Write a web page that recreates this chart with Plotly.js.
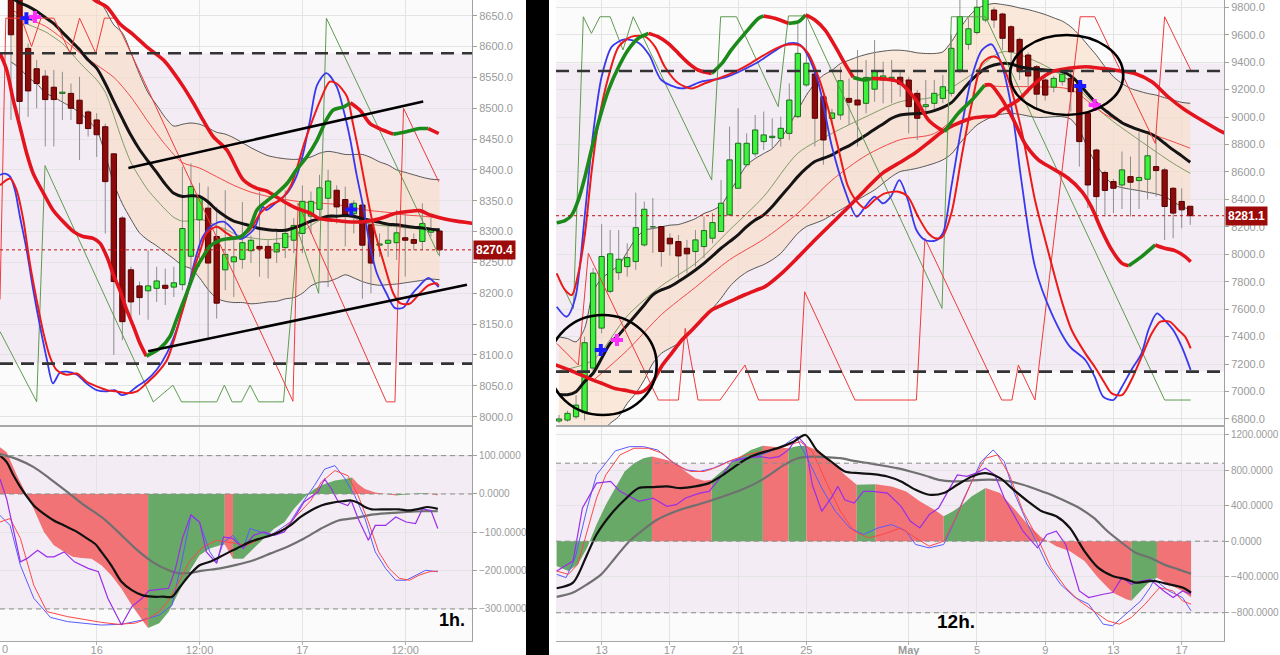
<!DOCTYPE html>
<html><head><meta charset="utf-8">
<script src="https://cdn.plot.ly/plotly-3.0.1.min.js"></script>
<style>html,body{margin:0;padding:0;background:#fff;}#chart{width:1280px;height:655px;}</style>
</head><body><div id="chart"></div>
<script>
// ================= LEFT PANEL (1h) =================
const L_open  = [8690,8700,8597,8564,8552,8534,8524,8524,8513,8494,8481,8470,8426,8322,8238,8212,8204,8208,8213,8210,8214,8260,8319,8338,8292,8238,8251,8255,8269,8276,8276,8267,8274,8286,8297,8325,8336,8354,8367,8352,8329,8343,8311,8278,8281,8282,8290,8287,8284,8299,8301];
const L_high  = [8705,8712,8605,8578,8562,8562,8559,8540,8551,8497,8492,8475,8427,8325,8243,8219,8270,8243,8240,8243,8405,8411,8379,8373,8340,8367,8292,8348,8294,8365,8286,8302,8367,8322,8375,8365,8392,8400,8375,8373,8351,8348,8316,8297,8308,8335,8335,8297,8346,8322,8305];
const L_low   = [8481,8473,8486,8500,8438,8438,8481,8481,8416,8454,8421,8297,8100,8124,8151,8165,8157,8186,8181,8194,8205,8227,8243,8124,8159,8205,8194,8240,8249,8227,8224,8249,8257,8265,8265,8297,8319,8210,8313,8276,8297,8191,8200,8259,8259,8254,8227,8270,8270,8292,8260];
const L_close = [8619,8511,8528,8540,8514,8514,8526,8500,8475,8467,8457,8381,8219,8154,8186,8193,8212,8220,8208,8217,8305,8373,8356,8249,8184,8263,8259,8282,8286,8272,8257,8281,8297,8310,8349,8349,8371,8382,8340,8327,8346,8278,8249,8280,8286,8298,8286,8281,8313,8305,8270.4];
const L_bandUp = [8790,8780,8770,8760,8750,8740,8725,8712,8700,8690,8680,8660,8635,8622,8590,8555,8525,8505,8485,8471,8474,8476,8474,8468,8461,8458,8452,8444,8436,8429,8423,8420,8418,8417,8418,8421,8427,8430,8428,8425,8425,8425,8420,8413,8408,8400,8396,8392,8388,8385,8384];
const L_bandLo = [8575,8565,8550,8540,8525,8518,8510,8502,8493,8480,8465,8425,8378,8345,8320,8298,8286,8277,8266,8256,8245,8240,8225,8206,8192,8187,8185,8185,8183,8184,8186,8187,8191,8193,8200,8212,8218,8219,8224,8230,8225,8219,8215,8213,8214,8215,8217,8219,8221,8223,8222];
const L_maBlack = [8680,8671,8665,8657,8647,8637,8623,8609,8595,8578,8565,8540,8511,8483,8456,8433,8414,8396,8377,8362,8357,8358,8357,8348,8335,8325,8317,8313,8309,8305,8303,8302,8302,8306,8311,8317,8321,8325,8325,8326,8325,8321,8318,8315,8312,8311,8309,8307,8306,8304,8303];
const L_maOlive = [8655,8645,8636,8630,8624,8615,8605,8590,8574,8560,8546,8526,8488,8447,8412,8388,8367,8351,8336,8323,8317,8318,8320,8316,8309,8304,8297,8292,8290,8288,8287,8288,8290,8294,8300,8310,8318,8322,8324,8325,8322,8316,8312,8310,8309,8308,8306,8305,8303,8302,8300];
const L_maRedX = [0,2,4,6,8,10,12,14,16,18,20,22,24,26,28,30,32,34,36,38,40,42,44,46,48,50];
const L_maRedY = [8660,8645,8633,8613,8590,8570,8550,8518,8478,8441,8412,8403,8389,8375,8364,8357,8352,8348,8346,8344,8338,8334,8331,8327,8325,8322];
const L_thick1X = [8,9.8,11.2,12.7,14.3,15.8,17.8,18.9,20.1,21.3,22.4,23.6,25.2,27.1,28.7,29.8,30.9,32.2,33.3,34.9,36.0,37.2,39.2,41.1,43.0,45.0,46.6,47.7,48.9,50.5,52.0,53.6,54.5];
const L_thick1Y = [8700,8675,8664,8637,8619,8600,8578,8559,8535,8508,8481,8454,8432,8384,8370,8366,8357,8346,8338,8330,8321,8319,8316,8316,8321,8330,8333,8334,8327,8321,8317,8314,8312];
const L_thick2X = [-1.28,-0.5,0.27,1.05,1.83,2.6,3.8,4.9,6.1,7.3,8.4,9.6,10.4,11.2,11.9,12.7,13.5,14.3,15.05,15.8,17.4,18.55,19.3,20.5,21.7,22.4,23.2,24.4,25.6,26.7,27.9,28.7,29.8,31.0,32.2,33.3,34.5,35.7,36.8,37.6,38.8,39.6,40.7,41.9,43.0,44.6,46.1,47.7,48.7,49.9];
const L_thick2Y = [8589,8562,8513,8470,8427,8394,8362,8335,8316,8300,8292,8289,8281,8259,8232,8205,8173,8146,8119,8098,8111,8130,8157,8200,8243,8259,8276,8286,8289,8291,8308,8335,8349,8362,8378,8400,8421,8448,8481,8497,8502,8509,8497,8475,8467,8458,8462,8467,8467,8459];
const L_thick2C = 'rrrrrrrrrrrrrrrrrrrggggggggggggggggggggggrrrrgggrr';
const L_blueX = [-1.28,-0.7,-0.1,0.47,1.05,1.83,2.6,3.4,4.2,4.9,5.7,6.5,7.7,8.8,10.0,11.2,12.1,12.9,13.7,14.7,15.8,17.0,18.2,19.3,20.1,20.9,21.7,22.4,23.6,24.8,25.9,26.7,28.3,29.4,29.8,31.0,32.2,33.3,34.1,34.9,35.7,36.8,38.0,38.8,39.6,40.3,41.1,41.9,42.7,43.8,44.8,45.8,46.7,47.7,48.7,49.5,49.9];
const L_blueY = [8392,8394,8389,8367,8324,8270,8205,8146,8092,8054,8071,8073,8068,8054,8043,8041,8043,8035,8038,8049,8059,8076,8103,8140,8178,8222,8265,8292,8311,8316,8303,8288,8303,8340,8335,8348,8362,8389,8427,8481,8537,8557,8535,8497,8448,8394,8340,8276,8232,8200,8176,8177,8197,8213,8225,8216,8210];
const L_redX = [-1.28,-0.1,0.66,1.44,2.2,3.0,3.8,4.55,5.3,6.5,7.7,8.8,10.0,11.2,12.3,13.5,14.7,15.8,17.0,18.2,18.9,19.7,20.5,21.3,22.1,22.8,24.0,25.2,26.3,27.9,29.1,30.2,31.4,32.6,33.3,34.1,34.9,36.1,37.2,38.0,39.2,39.9,40.7,41.5,42.3,43.5,44.6,45.4,46.5,47.7,48.7,49.7,49.9];
const L_redY = [8375,8386,8367,8319,8249,8189,8135,8097,8076,8068,8070,8057,8049,8043,8041,8038,8041,8054,8070,8092,8119,8157,8195,8238,8270,8297,8308,8297,8289,8303,8330,8343,8351,8373,8400,8438,8470,8513,8543,8540,8519,8475,8421,8362,8308,8249,8200,8184,8183,8200,8213,8216,8212];
const L_zigGX = [-1.28,3.0,3.97,16.6,18.9,19.9,24.0,24.9,25.8,26.9,27.9,28.9,31.8,33.5,35.9,36.8,49.9];
const L_zigGY = [8138,8024,8407,8024,8051,8024,8024,8051,8024,8024,8051,8024,8024,8300,8200,8646,8262];
const L_zigRX = [-1.28,-0.6,1.2,2.4,3.5,5.0,6.9,8.0,9.9,10.9,12.1,32.9,33.5,43.8,44.8,45.8,49.9];
const L_zigRY = [8190,8646,8646,8600,8646,8646,8589,8646,8589,8646,8646,8025,8346,8024,8024,8500,8381];
const L_trendUpX = [13.7,48.1], L_trendUpY = [8403,8511];
const L_trendLoX = [16.0,53.2], L_trendLoY = [8106,8214];
const L_levels = [8589,8086];
const L_lastPrice = 8270.4;
const L_crossBlueX = [1.8,39.7], L_crossBlueY = [8646,8336];
const L_crossMagX = [2.8], L_crossMagY = [8648];
const L_tickVals = [10,22,34,46], L_tickText = ['16','12:00','17','12:00'];
const L_priceTicks = [8000,8050,8100,8150,8200,8250,8300,8350,8400,8450,8500,8550,8600,8650];
// left oscillator
const LO_histX = [-1.28,-0.5,0.7,1.9,2.66,3.85,5.0,6.2,7.2,8.2,9.4,10.55,11.7,12.9,14.1,15.3,16.0,17.3,18.4,19.6,20.8,22.0,23.2,24.4,24.95,25.9,27.1,28.3,29.5,30.7,31.9,33.0,34.2,35.4,36.6,37.8,39.0,39.8,40.5,41.3,42.5,43.7,44.9,46.1,47.6,48.6,49.8];
const LO_histY = [122,109,48,-4,-39,-99,-134,-151,-164,-167,-169,-186,-212,-247,-290,-329,-350,-337,-307,-255,-203,-160,-142,-134,-132,-169,-169,-142,-117,-91,-74,-39,-9,13,26,35,39,43,26,13,4,0,-4,-1.5,2,2,-4];
const LO_histC = 'rrrrrrrrrrrrrrrrggggggggrggggggggggggrrrrrgggrr';
const LO_blackX = [-1.28,-0.5,0.3,1.1,1.9,2.66,3.85,5.0,6.2,7.4,8.6,9.8,10.55,11.7,12.9,14.1,15.3,16.5,17.7,18.8,19.6,20.8,22.0,23.2,24.4,25.5,26.7,27.9,29.1,30.3,31.5,32.6,33.8,35.0,36.2,37.4,38.6,39.7,40.5,41.3,42.1,43.7,45.3,46.4,47.6,48.6,49.8];
const LO_blackY = [100,83,48,18,-8,-30,-52,-69,-82,-95,-112,-130,-151,-186,-229,-251,-264,-268,-268,-268,-246,-212,-186,-177,-164,-151,-138,-125,-116,-108,-97,-82,-60,-43,-30,-23,-19,-17,-23,-34,-40,-40,-40,-43,-39,-34,-39];
const LO_greyX = [-1.28,0.7,2.66,4.6,6.6,8.6,10.55,12.5,14.5,16.5,18.4,19.6,20.8,22.4,24.4,26.3,28.3,30.3,32.2,34.2,36.2,38.2,40.1,42.1,44.1,46.1,48.0,49.8];
const LO_greyY = [104,91,70,39,5,-30,-60,-99,-142,-177,-199,-207,-206,-200,-194,-185,-173,-155,-138,-116,-90,-69,-63,-54,-50,-47,-45,-45];
const LO_blueX = [-1.28,-0.1,1.1,2.66,4.6,6.6,10.55,12.9,15.3,17.3,18.8,20.0,21.0,22.0,23.2,24.0,24.8,25.9,27.1,27.9,29.1,30.3,31.5,32.6,33.8,35.4,36.6,37.8,39.0,40.1,41.3,42.5,43.7,44.9,46.1,47.2,48.4,49.8];
const LO_blueY = [-56,-82,-186,-272,-322,-333,-342,-340,-329,-316,-290,-168,-56,-74,-151,-177,-125,-108,-142,-90,-99,-108,-90,-73,-30,22,65,74,39,-4,-64,-151,-194,-225,-225,-212,-199,-203];
const LO_redX = [-1.28,-0.1,1.1,2.66,4.2,6.6,10.55,12.5,14.5,16.1,17.3,18.4,19.6,20.8,22.4,24.0,26.3,27.5,28.7,30.3,31.9,33.4,35.0,36.2,37.8,39.3,40.5,41.7,42.9,44.1,45.3,46.5,47.6,48.8,49.8];
const LO_redY = [-73,-64,-116,-238,-307,-320,-335,-340,-337,-324,-307,-277,-229,-177,-138,-121,-129,-134,-121,-108,-90,-56,-17,31,61,48,-4,-73,-151,-194,-220,-225,-212,-203,-201];
const LO_purpleX = [-1.28,-0.5,1.1,1.9,3.1,4.2,5.0,6.2,7.4,9.0,10.2,11.3,12.9,14.1,15.3,16.1,17.3,18.4,19.2,20.0,21.0,22.0,22.8,24.0,24.8,25.9,27.1,28.3,29.5,30.7,31.9,33.0,34.2,35.8,36.6,37.4,38.2,39.3,39.7,40.5,41.7,42.5,43.7,44.9,46.1,47.2,48.0,49.0,49.8];
const LO_purpleY = [39,-13,-177,-168,-147,-164,-164,-151,-177,-194,-203,-272,-342,-294,-272,-252,-249,-246,-194,-116,-54,-73,-151,-181,-112,-116,-142,-108,-99,-108,-99,-64,-21,5,39,13,-21,-30,-17,-64,-121,-82,-82,-60,-73,-77,-39,-43,-90];
const LO_levels = [100,0,-300];
const LO_ticks = [-300,-200,-100,0,100];

// ================= RIGHT PANEL (12h) =================
const R_open  = [6785,6792,6816,6846,7171,7462,7730,7866,7910,7947,8068,8200,8202,8117,8093,8044,8020,8056,8117,8166,8287,8481,8652,8732,8821,8850,8845,8881,9003,9234,9314,9148,8990,9015,9136,9124,9100,9203,9270,9282,9290,9270,9173,9076,9100,9136,9173,9343,9530,9616,9707,9780,9751,9658,9566,9452,9367,9270,9218,9258,9282,9246,9027,8760,8596,8530,8505,8566,8537,8547,8639,8615,8481,8385,8350];
const R_high  = [6830,6860,6974,7400,7900,8220,8177,8177,8080,8449,8384,8410,8202,8153,8141,8105,8177,8275,8300,8542,8931,9064,8882,9015,9040,8990,9003,9246,9707,9743,9355,9185,9060,9367,9282,9489,9416,9561,9404,9416,9343,9294,9197,9270,9270,9306,9600,9900,9720,9880,9950,9800,9760,9670,9580,9470,9380,9290,9300,9340,9340,9260,9040,8770,8610,8550,8749,8712,8888,8870,8870,8630,8490,8481,8350];
const R_low   = [6770,6780,6800,6790,7150,7424,7716,7813,7837,7886,8056,8010,7910,7990,7825,7862,7910,7972,8080,8165,8280,8481,8639,8712,8760,8775,8785,8833,8991,9221,8785,8652,8950,8979,8943,8785,9027,9112,9100,9100,9148,8881,8833,9027,9040,9100,9150,9320,9490,9600,9690,9650,9490,9392,9270,9173,9050,9120,9180,9230,9040,8639,8336,8275,8275,8300,8330,8275,8330,8400,8420,8104,8117,8190,8214];
const R_close = [6800,6841,6901,7356,7863,7984,8003,7964,7976,8194,8328,8205,8020,8076,7988,8003,8105,8173,8231,8372,8688,8809,8809,8906,8870,8860,8918,9124,9464,9392,8991,8833,9030,9265,9108,9088,9289,9338,9300,9290,9240,9076,8991,9090,9173,9221,9501,9732,9643,9800,9880,9707,9574,9476,9331,9299,9167,9160,9282,9313,9185,8821,8505,8420,8465,8481,8615,8525,8560,8718,8610,8348,8300,8324,8281.1];
const R_bandUp = [7398,7386,7362,7459,7726,7823,7872,7920,8017,8114,8175,8187,8200,8212,8217,8236,8260,8297,8321,8357,8454,8552,8649,8698,8734,8770,8843,8940,9049,9159,9244,9305,9341,9390,9414,9438,9456,9470,9480,9487,9487,9480,9468,9463,9463,9475,9548,9645,9730,9790,9815,9827,9820,9810,9795,9783,9766,9747,9723,9699,9658,9597,9524,9451,9367,9294,9245,9209,9189,9172,9160,9141,9124,9107,9100];
const R_bandLo = [6500,6520,6550,6590,6640,6700,6768,6817,6914,6987,7085,7206,7278,7315,7351,7412,7485,7546,7606,7679,7764,7825,7870,7900,7925,7960,8007,8080,8153,8202,8226,8251,8287,8323,8360,8396,8433,8469,8518,8566,8603,8615,8627,8644,8663,8688,8731,8809,8881,8942,8979,9008,9022,9027,9020,9008,8998,8998,9003,9003,8984,8906,8773,8652,8566,8505,8486,8474,8464,8452,8440,8420,8384,8347,8328];
const R_maBlack = [6979,6977,6999,7072,7133,7242,7351,7412,7485,7558,7631,7704,7740,7764,7801,7842,7886,7934,7988,8044,8092,8141,8202,8250,8287,8348,8421,8493,8566,8627,8676,8700,8724,8761,8790,8829,8870,8911,8950,8991,9015,9023,9025,9032,9047,9071,9105,9173,9246,9307,9355,9379,9391,9387,9367,9355,9348,9343,9338,9331,9299,9241,9168,9100,9051,9003,8959,8930,8906,8886,8857,8809,8761,8717,8671];
const R_oliveX = [0,4,8,12,16,20,24,28,32,36,40,44,48,52,56,60,64,68,72,74];
const R_oliveY = [7150,7229,7551,7770,7934,8177,8421,8736,8881,9003,9112,9148,9294,9476,9404,9258,9015,8833,8663,8590];
const R_maRedX = [4,8,12,16,20,24,28,32,36,40,44,48,50,52,56,60,64,68,72,74];
const R_maRedY = [7080,7300,7560,7760,7960,8110,8300,8540,8720,8835,8880,9090,9220,9222,9220,9200,9020,8910,8820,8773];
const R_thick1X = [-0.27,0.7,1.5,2.27,3.05,3.8,4.6,5.8,7.0,8.1,9.3,10.5,11.6,12.8,14.0,15.2,16.3,17.9,19.1,20.2,21.8,23.4,24.0,25.3,26.9,28.1,28.9,30.0,31.2,32.4,33.5,34.5,35.9,36.7,38.2,39.8,40.9,42.1,43.3,44.5,45.2,46.8,48.4,49.9,50.6,51.5,53.1,54.6,56.2,57.8,59.7,61.3,62.4,63.6,64.8,66.0,66.8,68.3,69.9,71.0,72.2,73.4,74.05];
const R_thick1Y = [8230,8245,8286,8396,8566,8760,8955,9197,9367,9489,9574,9610,9586,9537,9464,9391,9343,9318,9391,9489,9610,9720,9737,9720,9683,9695,9744,9707,9634,9513,9391,9289,9270,9282,9277,9258,9197,9100,8979,8918,8894,9027,9124,9233,9235,9170,9003,8809,8688,8627,8554,8457,8347,8177,8032,7934,7917,7983,8068,8044,8027,7983,7946];
const R_thick1C = 'gggggggggggrrrrrrgggggrrggrrrrrggrrrrrrrgggrrrrrrrrrrrrrggrrrrr';
const R_thick2X = [-0.4,1,2,3.5,5,6.5,8,9.3,10,10.9,12,13.2,14.4,15.6,16.7,17.9,19.1,20.2,21.8,23.4,24.15,26.1,28.1,30.0,32.0,34.0,35.9,37.9,39.8,41.7,43.7,45.2,46.8,48.4,49.9,51.1,51.9,53.85,55.8,57.8,59.7,61.7,63.6,65.6,67.5,69.5,71.4,73.4,75.3,77.3,78.1];
const R_thick2Y = [7193,7161,7137,7096,7060,7023,7006,6992,7006,7060,7181,7278,7375,7448,7521,7594,7630,7660,7705,7745,7764,7861,7983,8104,8226,8348,8469,8590,8663,8736,8833,8906,8955,8991,9003,9008,9051,9124,9246,9331,9355,9367,9355,9338,9318,9258,9148,9051,8979,8906,8881];
const R_blueX = [-0.27,0.9,1.9,3.05,4.0,5.0,6.2,7.7,9.35,10.6,12.0,14.4,16.7,19.5,23.1,26.9,28.3,30.2,32.0,33.5,34.9,35.9,37.0,38.0,38.9,39.9,40.9,41.9,42.9,44.1,45.0,46.0,47.2,48.4,49.6,50.7,51.9,53.1,54.2,55.8,57.75,59.9,61.7,62.8,63.8,65.0,66.0,67.1,68.3,69.1,70.1,71.0,72.0,73.0,74.05];
const R_blueY = [7618,7545,7679,8299,8881,9294,9513,9566,9540,9450,9270,9209,9258,9289,9392,9537,9525,9294,8784,8469,8274,8347,8420,8371,8420,8541,8396,8177,8104,8099,8153,8493,8930,9294,9489,9530,9380,9051,8541,7910,7570,7327,7230,7108,6962,6938,7035,7157,7278,7448,7570,7521,7448,7327,7157];
const R_redX = [-0.27,0.7,1.5,2.27,3.05,3.8,4.6,5.8,7.0,8.5,10.1,11.25,12.4,14.0,15.55,17.1,18.7,20.2,21.8,23.4,25.3,26.5,28.1,29.2,30.4,31.6,32.7,33.9,35.1,35.9,37.0,38.2,39.8,40.9,42.1,43.3,44.1,44.9,46.0,47.2,48.4,49.6,50.7,51.5,52.7,54.3,55.8,57.0,58.9,60.1,61.7,62.8,64.0,64.8,66.0,67.1,68.3,69.5,70.5,71.6,72.6,73.4,74.05];
const R_redY = [7861,7740,7703,7861,8153,8590,8955,9294,9513,9586,9586,9513,9367,9246,9209,9246,9282,9318,9367,9428,9495,9525,9525,9464,9294,9051,8784,8493,8371,8335,8396,8444,8456,8420,8274,8153,8117,8125,8299,8712,9100,9392,9440,9428,9270,8881,8396,8104,7667,7448,7278,7181,7059,6987,6974,7084,7254,7424,7509,7509,7448,7400,7315];
const R_zigGX = [-0.27,1.7,2.85,3.8,4.8,6.0,7.5,8.7,17.9,18.95,20.8,25.7,26.9,29.0,44.9,46.0,50.0,71.0,74.05];
const R_zigGY = [7861,7606,9731,9610,9731,9731,9489,9731,8541,9731,9731,9076,9737,9737,7606,9731,9731,6938,6938];
const R_zigRX = [-0.27,2.27,3.44,11.65,14.0,14.8,16.3,18.9,21.8,23.4,28.1,28.8,34.7,41.9,42.9,51.9,53.1,53.85,55.8,61.1,62.8,69.9,71.0,74.05];
const R_zigRY = [7351,7193,8007,6938,6938,7460,6938,6938,7193,6938,6938,7727,6938,6938,8116,6938,6938,7193,6938,9731,9731,8808,9731,9343];
const R_circleX0 = [-1.17,52.87], R_circleX1 = [11.45,66.15];
const R_circleY0 = [6829,9015], R_circleY1 = [7558,9598];
const R_levels = [9336,7145];
const R_shade = [7145,9390];
const R_lastPrice = 8281.1;
const R_crossBlueX = [4.9,61.1], R_crossBlueY = [7302,9226];
const R_crossMagX = [6.8,62.8], R_crossMagY = [7375,9087];
const R_tickVals = [5,13,21,29,41,49,57,65,73];
const R_tickText = ['13','17','21','25','<b>May</b>','5','9','13','17'];
const R_priceTicks = [6800,7000,7200,7400,7600,7800,8000,8200,8400,8600,8800,9000,9200,9400,9600,9800];
// right oscillator
const RO_histX = [-0.27,1.1,2.2,3.3,4.4,5.5,6.6,7.7,8.8,9.9,10.9,12.65,13.75,14.85,15.95,17.05,17.9,19.25,20.9,22.5,23.9,25.3,26.9,28.0,29.0,30.2,31.3,32.4,33.5,34.9,36.3,37.1,39.0,40.7,42.3,44.0,45.1,46.2,47.3,48.4,50.0,51.7,53.3,54.97,56.6,58.3,59.9,61.6,63.2,64.9,66.5,67.1,68.2,69.3,70.1,71.5,73.1,74.1];
const RO_histY = [-280,-336,-261,-75,187,411,597,784,877,933,951,914,877,784,709,679,690,802,933,1026,1074,1063,1045,1071,1074,1026,951,858,746,634,641,641,616,560,448,354,280,336,411,504,597,541,373,187,38,-56,-112,-224,-410,-578,-653,-671,-560,-448,-410,-485,-560,-634];
const RO_histC = 'ggggggggggrrrrrrggggrrggrrrrrggrrrrrggggrrrrrrrrrrrgggrrrr';
const RO_blackX = [-0.27,1.65,3.3,4.4,6.05,7.7,9.35,11.0,12.65,14.3,15.95,17.6,19.25,20.9,22.5,24.2,25.8,27.5,28.9,30.2,31.9,33.5,35.2,36.8,38.5,40.1,41.8,43.4,45.1,46.7,48.4,50.0,51.7,53.3,54.97,56.6,58.3,59.9,61.6,63.2,64.9,66.5,67.6,68.7,69.8,71.5,73.1,74.1];
const RO_blackY = [-529,-466,-149,75,298,466,597,608,616,597,616,653,746,858,951,1007,1052,1119,1194,1026,896,784,765,754,728,672,578,522,541,634,728,765,709,578,448,336,280,149,-112,-298,-392,-429,-466,-455,-448,-485,-522,-578];
const RO_greyX = [-0.27,1.65,3.3,4.95,6.6,8.25,9.9,11.55,13.2,14.85,16.5,18.1,19.8,21.4,23.1,24.7,26.4,28.0,29.7,31.3,32.99,34.6,36.3,37.9,39.6,41.2,42.9,44.5,46.2,47.8,49.5,51.1,52.8,54.4,56.1,57.7,59.4,61.0,62.7,64.3,66.0,67.6,69.3,70.9,72.6,74.1];
const RO_greyY = [-627,-578,-485,-373,-186,0,131,243,317,373,418,466,522,578,653,746,858,933,951,944,933,903,877,851,821,784,739,690,672,679,690,690,672,634,578,522,448,373,261,112,-18,-130,-186,-261,-317,-366];
const RO_blueX = [-0.27,0.83,1.9,3.3,4.4,6.6,8.25,9.9,11.55,13.2,14.85,16.5,18.1,19.8,21.4,23.1,24.7,26.4,27.8,29.1,30.8,32.4,34.1,35.7,37.4,39.0,40.7,41.8,43.4,45.1,46.2,47.3,48.4,49.5,50.9,52.2,53.3,54.97,56.1,57.2,58.8,60.5,62.1,63.8,64.9,66.5,68.2,69.3,69.8,71.5,73.1,74.1];
const RO_blueY = [-373,-410,-186,373,746,1015,1063,1063,1026,896,802,784,821,896,933,951,1007,1082,1175,933,597,336,149,75,149,187,112,-37,-75,-37,187,448,672,896,1026,896,560,187,-37,-261,-485,-634,-709,-933,-951,-821,-672,-522,-429,-560,-634,-783];
const RO_redX = [-0.27,1.1,2.2,3.3,4.4,5.5,7.15,8.8,10.45,12.1,13.75,15.4,17.05,18.7,20.3,22.0,23.6,25.3,26.9,28.3,29.7,31.3,32.99,34.6,36.3,37.9,40.1,41.8,43.4,45.1,46.7,48.4,50.0,51.4,52.8,54.4,56.1,57.7,59.4,61.0,62.7,64.3,65.7,67.1,68.7,70.4,72.0,73.1,74.1];
const RO_redY = [-336,-373,-261,112,485,746,970,1045,1045,989,858,784,784,840,914,970,1007,1026,1082,1119,1007,672,336,112,37,75,149,37,-56,0,299,672,933,970,746,336,37,-299,-522,-671,-783,-895,-933,-858,-709,-522,-560,-671,-709];
const RO_purpleX = [-0.27,1.65,2.75,4.4,6.05,7.15,9.35,11.0,12.65,13.75,14.85,16.5,17.6,18.7,20.3,22.0,23.6,24.7,25.8,26.9,28.0,28.9,29.7,30.8,31.9,32.7,33.5,34.6,35.7,36.8,38.5,40.1,41.2,42.3,43.4,44.5,45.6,46.7,47.8,48.9,50.0,51.1,52.2,53.3,54.4,56.1,57.2,58.3,59.4,61.0,62.1,63.8,64.9,66.0,67.1,68.2,69.3,70.9,72.0,73.1,74.1];
const RO_purpleY = [-336,-224,373,653,672,560,448,485,392,411,485,541,560,690,896,933,951,933,951,1026,1175,1082,634,336,485,616,466,429,560,560,541,392,224,149,299,373,560,746,728,765,821,746,485,299,112,-75,75,112,-37,-560,-634,-597,-578,-410,-485,-448,-429,-560,-634,-560,-597];
const RO_levels = [877,0,-805];
const RO_ticks = [-800,-400,0,400,800,1200];

// ================= helpers =================
const COL = {
  thickRed:'#e3141d', thickGreen:'#1b8a1b', black:'#141414', band:'#555555',
  bandFill:'rgba(250,218,192,0.55)', olive:'#7f9c66', redMA:'#f24848', blue:'#3838ee',
  redMid:'#ec1a1a', zigG:'#5f9b50', zigR:'#f03a3a', candleUp:'#3cf03c', candleUpLine:'#1d6a1d',
  candleDn:'#8c0a0a', candleDnLine:'#560000', wick:'#8e8e8e', lavender:'rgb(243,236,244)',
  histR:'#f17376', histG:'#68a968', oscBlack:'#111111', oscGrey:'#707070', oscBlue:'#5a5aff',
  oscRed:'#ff4646', oscPurple:'#9a2ee8'
};
const traces = [];
function ln(x, y, xa, ya, color, width, shape) {
  return {type:'scatter', mode:'lines', x:x, y:y, xaxis:xa, yaxis:ya,
    line:{color:color, width:width, shape:shape||'linear', smoothing:0.8}, hoverinfo:'skip'};
}
function range(n){ return Array.from({length:n}, (_, i) => i); }
function segTraces(X, Y, C, mk) {
  const out = []; let s = 0;
  for (let i = 1; i < X.length; i++) {
    if (i === X.length - 1 || C[i] !== C[s]) {
      out.push(mk(X.slice(s, i + 1), Y.slice(s, i + 1), C[s]));
      s = i;
    }
  }
  return out;
}
function bandTrace(up, lo, xa, ya) {
  const idx = range(up.length);
  return {type:'scatter', mode:'lines', x: idx.concat(idx.slice().reverse()),
    y: up.concat(lo.slice().reverse()), fill:'toself', fillcolor:COL.bandFill,
    line:{width:0}, xaxis:xa, yaxis:ya, hoverinfo:'skip'};
}
function candleTraces(O, H, L, C, xa, ya) {
  const hw = 0.31, wx = [], wy = [], gx = [], gy = [], rx = [], ry = [];
  for (let i = 0; i < O.length; i++) {
    wx.push(i, i, null); wy.push(L[i], H[i], null);
    const top = Math.max(O[i], C[i]), bot = Math.min(O[i], C[i]);
    const up = C[i] >= O[i];
    (up ? gx : rx).push(i - hw, i + hw, i + hw, i - hw, i - hw, null);
    (up ? gy : ry).push(bot, bot, top, top, bot, null);
  }
  return [
    {type:'scatter', mode:'lines', x:wx, y:wy, xaxis:xa, yaxis:ya, line:{color:COL.wick, width:1}, hoverinfo:'skip'},
    {type:'scatter', mode:'lines', x:gx, y:gy, fill:'toself', fillcolor:COL.candleUp, line:{color:COL.candleUpLine, width:1}, xaxis:xa, yaxis:ya, hoverinfo:'skip'},
    {type:'scatter', mode:'lines', x:rx, y:ry, fill:'toself', fillcolor:COL.candleDn, line:{color:COL.candleDnLine, width:1}, xaxis:xa, yaxis:ya, hoverinfo:'skip'}
  ];
}
function thickSeg(X, Y, C, xa, ya) {
  return segTraces(X, Y, C, (x, y, c) => ln(x, y, xa, ya, c === 'g' ? COL.thickGreen : COL.thickRed, 3.6, 'spline'));
}
function histSeg(X, Y, C, xa, ya) {
  return segTraces(X, Y, C, (x, y, c) => ({type:'scatter', mode:'lines', x:x, y:y, xaxis:xa, yaxis:ya,
    fill:'tozeroy', fillcolor: c === 'g' ? COL.histG : COL.histR, line:{width:0, color: c === 'g' ? COL.histG : COL.histR}, hoverinfo:'skip'}));
}
function crosses(x, y, xa, ya, color) {
  return {type:'scatter', mode:'markers', x:x, y:y, xaxis:xa, yaxis:ya,
    marker:{symbol:'cross', size:10, color:color, line:{width:0}}, hoverinfo:'skip'};
}

// ---------- left price ----------
const Lidx = range(L_open.length);
traces.push(bandTrace(L_bandUp, L_bandLo, 'x', 'y'));
traces.push(ln(Lidx, L_bandUp, 'x', 'y', COL.band, 1, 'spline'));
traces.push(ln(Lidx, L_bandLo, 'x', 'y', COL.band, 1, 'spline'));
traces.push(ln(Lidx, L_maOlive, 'x', 'y', COL.olive, 1, 'spline'));
traces.push(ln(L_maRedX, L_maRedY, 'x', 'y', COL.redMA, 1, 'spline'));
traces.push(...candleTraces(L_open, L_high, L_low, L_close, 'x', 'y'));
traces.push(ln(Lidx, L_maBlack, 'x', 'y', COL.black, 3, 'spline'));
traces.push(ln(L_zigGX, L_zigGY, 'x', 'y', COL.zigG, 1));
traces.push(ln(L_zigRX, L_zigRY, 'x', 'y', COL.zigR, 1));
traces.push(ln(L_blueX, L_blueY, 'x', 'y', COL.blue, 1.8, 'spline'));
traces.push(ln(L_redX, L_redY, 'x', 'y', COL.redMid, 2, 'spline'));
traces.push(ln(L_thick1X, L_thick1Y, 'x', 'y', COL.thickRed, 3.6, 'spline'));
traces.push(...thickSeg(L_thick2X, L_thick2Y, L_thick2C, 'x', 'y'));
traces.push(ln(L_trendUpX, L_trendUpY, 'x', 'y', '#000', 2.6));
traces.push(ln(L_trendLoX, L_trendLoY, 'x', 'y', '#000', 2.6));
traces.push(crosses(L_crossBlueX, L_crossBlueY, 'x', 'y', '#1c1cff'));
traces.push(crosses(L_crossMagX, L_crossMagY, 'x', 'y', '#ff2cff'));

// ---------- left osc ----------
traces.push(...histSeg(LO_histX, LO_histY, LO_histC, 'x2', 'y2'));
traces.push(ln(LO_greyX, LO_greyY, 'x2', 'y2', COL.oscGrey, 2.2, 'spline'));
traces.push(ln(LO_blueX, LO_blueY, 'x2', 'y2', COL.oscBlue, 1));
traces.push(ln(LO_redX, LO_redY, 'x2', 'y2', COL.oscRed, 1));
traces.push(ln(LO_purpleX, LO_purpleY, 'x2', 'y2', COL.oscPurple, 1.2));
traces.push(ln(LO_blackX, LO_blackY, 'x2', 'y2', COL.oscBlack, 2.2, 'spline'));

// ---------- right price ----------
const Ridx = range(R_open.length);
traces.push(bandTrace(R_bandUp, R_bandLo, 'x3', 'y3'));
traces.push(ln(Ridx, R_bandUp, 'x3', 'y3', COL.band, 1, 'spline'));
traces.push(ln(Ridx, R_bandLo, 'x3', 'y3', COL.band, 1, 'spline'));
traces.push(ln(R_oliveX, R_oliveY, 'x3', 'y3', COL.olive, 1, 'spline'));
traces.push(ln(R_maRedX, R_maRedY, 'x3', 'y3', COL.redMA, 1, 'spline'));
traces.push(...candleTraces(R_open, R_high, R_low, R_close, 'x3', 'y3'));
traces.push(ln(Ridx, R_maBlack, 'x3', 'y3', COL.black, 3, 'spline'));
traces.push(ln(R_zigGX, R_zigGY, 'x3', 'y3', COL.zigG, 1));
traces.push(ln(R_zigRX, R_zigRY, 'x3', 'y3', COL.zigR, 1));
traces.push(ln(R_blueX, R_blueY, 'x3', 'y3', COL.blue, 1.8, 'spline'));
traces.push(ln(R_redX, R_redY, 'x3', 'y3', COL.redMid, 2, 'spline'));
traces.push(ln(R_thick2X, R_thick2Y, 'x3', 'y3', COL.thickRed, 3.6, 'spline'));
traces.push(...thickSeg(R_thick1X, R_thick1Y, R_thick1C, 'x3', 'y3'));
traces.push(crosses(R_crossBlueX, R_crossBlueY, 'x3', 'y3', '#1c1cff'));
traces.push(crosses(R_crossMagX, R_crossMagY, 'x3', 'y3', '#ff2cff'));

// ---------- right osc ----------
traces.push(...histSeg(RO_histX, RO_histY, RO_histC, 'x4', 'y4'));
traces.push(ln(RO_greyX, RO_greyY, 'x4', 'y4', COL.oscGrey, 2.2, 'spline'));
traces.push(ln(RO_blueX, RO_blueY, 'x4', 'y4', COL.oscBlue, 1));
traces.push(ln(RO_redX, RO_redY, 'x4', 'y4', COL.oscRed, 1));
traces.push(ln(RO_purpleX, RO_purpleY, 'x4', 'y4', COL.oscPurple, 1.2));
traces.push(ln(RO_blackX, RO_blackY, 'x4', 'y4', COL.oscBlack, 2.2, 'spline'));

// ---------- shapes ----------
const shapes = [];
function hband(xr, yr, y0, y1) { shapes.push({type:'rect', xref:xr + ' domain', x0:0, x1:1, yref:yr, y0:y0, y1:y1, fillcolor:COL.lavender, line:{width:0}, layer:'below'}); }
function hline(xr, yr, y, color, width, dash) { shapes.push({type:'line', xref:xr + ' domain', x0:0, x1:1, yref:yr, y0:y, y1:y, line:{color:color, width:width, dash:dash}, layer:'above'}); }
hband('x', 'y', Math.min(...L_levels), Math.max(...L_levels));
hband('x2', 'y2', LO_levels[2], LO_levels[0]);
hband('x3', 'y3', R_shade[0], R_shade[1]);
hband('x4', 'y4', RO_levels[2], RO_levels[0]);
L_levels.forEach(v => hline('x', 'y', v, '#333', 2.6, '13px,8px'));
R_levels.forEach(v => hline('x3', 'y3', v, '#333', 2.6, '13px,8px'));
LO_levels.forEach(v => hline('x2', 'y2', v, '#8a8a8a', 1, '5px,4px'));
RO_levels.forEach(v => hline('x4', 'y4', v, '#8a8a8a', 1, '5px,4px'));
hline('x', 'y', L_lastPrice, '#c01010', 1, 'dot');
hline('x3', 'y3', R_lastPrice, '#c01010', 1, 'dot');
for (let i = 0; i < R_circleX0.length; i++) {
  shapes.push({type:'circle', xref:'x3', yref:'y3', x0:R_circleX0[i], x1:R_circleX1[i], y0:R_circleY0[i], y1:R_circleY1[i], line:{color:'#000', width:2.6}, layer:'above'});
}
shapes.push({type:'rect', xref:'paper', yref:'paper', x0:526/1280, x1:549/1280, y0:0, y1:1, fillcolor:'#000', line:{width:0}, layer:'above'});

// ---------- axes ----------
const FONT = 'Arial, "Liberation Sans", sans-serif';
const tickFont = {family:FONT, size:11, color:'#9a9a9a'};
const oscFont = {family:FONT, size:10, color:'#9a9a9a'};
const grid = '#e4e4e4';
const Ldom = [0, 472/1280], Rdom = [556/1280, 1224/1280];
const Pdom = [1 - 425/655, 1], Odom = [1 - 641/655, 1 - 427/655];
function xAx(dom, anchor, rng, tv, tt, labels) {
  return {domain:dom, anchor:anchor, range:rng, tickmode:'array', tickvals:tv, ticktext:tt,
    showticklabels:labels, ticks:labels ? 'outside' : '', ticklen:3, tickcolor:'#b0b0b0',
    ticklabelstandoff:-4, showgrid:true, gridcolor:grid, zeroline:false,
    showline:true, linecolor:'#a8a8a8', linewidth:1, mirror:labels, tickfont:tickFont, fixedrange:true};
}
function yAx(dom, anchor, rng, tv, fmt, font) {
  return {domain:dom, anchor:anchor, range:rng, side:'right', tickmode:'array', tickvals:tv, tickformat:fmt,
    ticks:'outside', ticklen:4, tickcolor:'#a0a0a0', showgrid:true, gridcolor:grid, zeroline:false,
    showline:true, linecolor:'#a0a0a0', linewidth:1, tickfont:font, fixedrange:true};
}
const layout = {
  width:1280, height:655, margin:{l:0, r:0, t:0, b:0},
  paper_bgcolor:'#ffffff', plot_bgcolor:'#fbfbfb', showlegend:false, hovermode:false,
  xaxis:  xAx(Ldom, 'y',  [-1.28, 53.79], L_tickVals, L_tickText, false),
  yaxis:  yAx(Pdom, 'x',  [7986.5, 8675.4], L_priceTicks, '.1f', tickFont),
  xaxis2: xAx(Ldom, 'y2', [-1.28, 53.79], L_tickVals, L_tickText, true),
  yaxis2: yAx(Odom, 'x2', [-383.6, 174.8], LO_ticks, '.4f', oscFont),
  xaxis3: xAx(Rdom, 'y3', [-0.35, 77.96], R_tickVals, R_tickText, false),
  yaxis3: yAx(Pdom, 'x3', [6756, 9853], R_priceTicks, '.1f', tickFont),
  xaxis4: xAx(Rdom, 'y4', [-0.35, 77.96], R_tickVals, R_tickText, true),
  yaxis4: yAx(Odom, 'x4', [-1122.5, 1284], RO_ticks, '.4f', oscFont),
  shapes: shapes,
  annotations: [
    {xref:'paper', yref:'y', x:473/1280, y:L_lastPrice, xanchor:'left', yanchor:'middle', text:'<b>' + L_lastPrice.toFixed(1) + '</b>',
     showarrow:false, bgcolor:'#9c0a0a', borderpad:2, font:{family:FONT, size:12, color:'#fff'}},
    {xref:'paper', yref:'y3', x:1225/1280, y:R_lastPrice, xanchor:'left', yanchor:'middle', text:'<b>' + R_lastPrice.toFixed(1) + '</b>',
     showarrow:false, bgcolor:'#9c0a0a', borderpad:2, font:{family:FONT, size:12, color:'#fff'}},
    {xref:'paper', yref:'paper', x:452/1280, y:(655 - 620)/655, xanchor:'center', yanchor:'middle', text:'<b>1h.</b>',
     showarrow:false, font:{family:FONT, size:18, color:'#000'}},
    {xref:'paper', yref:'paper', x:956/1280, y:(655 - 621)/655, xanchor:'center', yanchor:'middle', text:'<b>12h.</b>',
     showarrow:false, font:{family:'"Liberation Sans Narrow", Arial, "Liberation Sans", sans-serif', size:19, color:'#000'}},
    {xref:'paper', yref:'paper', x:0, y:(655 - 649)/655, xanchor:'left', yanchor:'middle', text:'0',
     showarrow:false, font:tickFont}
  ]
};
Plotly.newPlot('chart', traces, layout, {staticPlot:true, displayModeBar:false});
</script>
</body></html>
